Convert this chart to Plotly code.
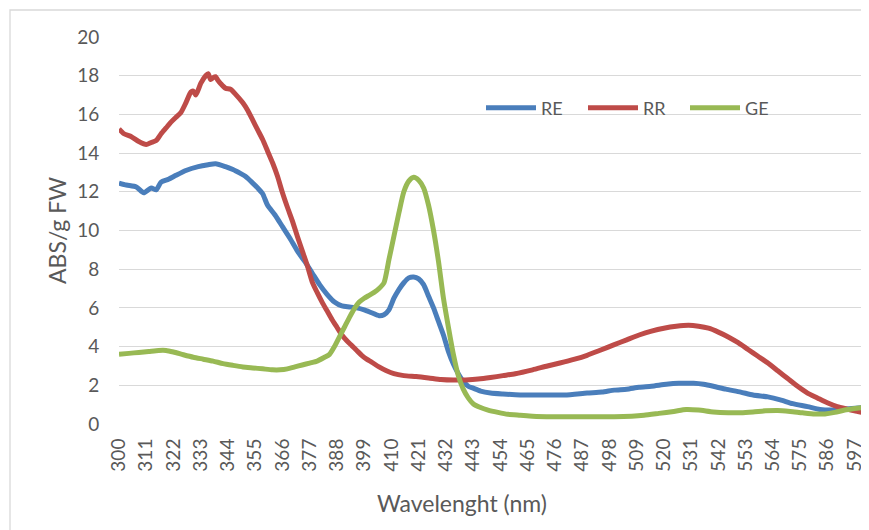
import plotly.graph_objects as go

# ---- data ----
re_wl = [300, 303, 307, 310, 313, 315, 317, 320, 323, 327, 332, 336, 339, 343, 346, 349, 351, 354, 356, 358,
         360, 363, 366, 369, 372, 375, 378, 381, 384, 387, 390, 393, 396, 399, 402, 405, 407, 409, 411, 413,
         415, 417, 419, 421, 423, 425, 427, 429, 431, 433, 435, 437, 439, 441, 443, 446, 450, 455, 462, 470,
         480, 489, 495, 500, 505, 510, 515, 521, 526, 532, 536, 540, 545, 551, 556, 562, 567, 572, 578, 583,
         588, 592, 596, 600]
re_val = [12.45, 12.35, 12.25, 11.95, 12.2, 12.1, 12.5, 12.65, 12.85, 13.1, 13.3, 13.4, 13.45, 13.3, 13.15, 12.95, 12.8, 12.45, 12.2, 11.9,
          11.3, 10.8, 10.2, 9.6, 8.95, 8.4, 7.8, 7.2, 6.7, 6.3, 6.1, 6.05, 6.0, 5.9, 5.75, 5.6, 5.65, 5.9, 6.5, 6.95,
          7.3, 7.55, 7.6, 7.5, 7.2, 6.6, 6.0, 5.3, 4.6, 3.75, 3.1, 2.6, 2.2, 1.95, 1.85, 1.7, 1.6, 1.55, 1.5, 1.5,
          1.5, 1.6, 1.65, 1.75, 1.8, 1.9, 1.95, 2.05, 2.1, 2.1, 2.05, 1.95, 1.8, 1.65, 1.5, 1.4, 1.25, 1.05, 0.9, 0.75,
          0.72, 0.75, 0.8, 0.85]

rr_wl = [300, 302, 305, 308, 311, 313, 315, 317, 319, 321, 323, 325, 327, 329, 330, 331, 333, 335, 336, 337,
         338, 339, 340, 341, 343, 345, 347, 350, 352, 354, 356, 358, 360, 362, 364, 366, 368, 370, 372, 374,
         376, 378, 380, 382, 384, 386, 388, 390, 392, 394, 396, 398, 400, 402, 405, 408, 411, 415, 420, 425,
         430, 435, 440, 445, 450, 455, 460, 467, 473, 478, 484, 489, 494, 500, 505, 510, 515, 520, 525, 530,
         534, 538, 542, 546, 550, 554, 558, 562, 566, 570, 574, 578, 582, 586, 590, 594, 597, 600]
rr_val = [15.25, 15.0, 14.85, 14.6, 14.45, 14.55, 14.65, 15.0, 15.3, 15.6, 15.85, 16.1, 16.6, 17.15, 17.2, 17.0, 17.6, 18.0, 18.1, 17.8,
          17.9, 17.95, 17.75, 17.6, 17.35, 17.3, 17.05, 16.6, 16.2, 15.7, 15.2, 14.7, 14.1, 13.5, 12.8, 11.95, 11.2, 10.5, 9.7, 8.95,
          8.2, 7.35, 6.8, 6.3, 5.85, 5.4, 5.0, 4.6, 4.3, 4.05, 3.8, 3.55, 3.35, 3.2, 2.95, 2.75, 2.6, 2.5, 2.45, 2.38,
          2.3, 2.27, 2.28, 2.32, 2.4, 2.5, 2.6, 2.8, 3.0, 3.15, 3.35, 3.55, 3.8, 4.1, 4.35, 4.6, 4.8, 4.95, 5.05, 5.1,
          5.05, 4.95, 4.75, 4.5, 4.2, 3.85, 3.5, 3.15, 2.75, 2.35, 1.95, 1.6, 1.35, 1.1, 0.9, 0.77, 0.68, 0.6]

ge_wl = [300, 304, 308, 312, 316, 319, 322, 326, 330, 334, 338, 342, 346, 350, 354, 358, 362, 365, 368, 371,
         374, 377, 380, 383, 385, 387, 389, 391, 393, 395, 397, 399, 401, 403, 405, 407, 409, 411, 413, 415,
         417, 419, 421, 423, 425, 427, 429, 431, 433, 435, 437, 439, 441, 443, 446, 449, 453, 457, 462, 467,
         475, 489, 500, 507, 512, 518, 524, 529, 534, 540, 546, 551, 556, 561, 566, 571, 576, 581, 585, 589,
         593, 597, 600]
ge_val = [3.6, 3.65, 3.7, 3.75, 3.8, 3.8, 3.72, 3.58, 3.45, 3.35, 3.25, 3.12, 3.03, 2.95, 2.9, 2.85, 2.8, 2.8, 2.85, 2.95,
          3.05, 3.15, 3.25, 3.45, 3.6, 4.0, 4.5, 5.0, 5.5, 5.95, 6.3, 6.5, 6.65, 6.8, 7.0, 7.3, 8.5, 9.7, 10.9, 12.0,
          12.55, 12.75, 12.6, 12.2, 11.3, 10.0, 8.4, 6.5, 5.0, 3.6, 2.5, 1.8, 1.35, 1.05, 0.85, 0.72, 0.6, 0.5, 0.45, 0.4,
          0.37, 0.37, 0.37, 0.4, 0.45, 0.55, 0.65, 0.75, 0.72, 0.62, 0.58, 0.58, 0.62, 0.68, 0.7, 0.65, 0.58, 0.52, 0.52, 0.6,
          0.72, 0.8, 0.85]

x_ticks = [300, 311, 322, 333, 344, 355, 366, 377, 388, 399, 410, 421, 432, 443, 454, 465, 476, 487, 498, 509,
           520, 531, 542, 553, 564, 575, 586, 597]
y_ticks = [0, 2, 4, 6, 8, 10, 12, 14, 16, 18, 20]

series = [("RE", re_wl, re_val, "#4A7EBB"),
          ("RR", rr_wl, rr_val, "#BE4B48"),
          ("GE", ge_wl, ge_val, "#98B954")]

FONT = "Lato, 'Liberation Sans', sans-serif"
GREY = "#595959"

fig = go.Figure()
for name, xs, ys, col in series:
    fig.add_trace(go.Scatter(x=xs, y=ys, name=name, mode="lines",
                             line=dict(color=col, width=5, shape="spline", smoothing=0.6)))

# page has an 8px body margin: work in page pixels, convert to figure pixels
OFF = 8
W, H = 869 - OFF, 530 - OFF
PL, PR, PT, PB = 119, 862, 37, 424          # plot area in page pixels
L, R, T, B = PL - OFF, W - (PR - OFF), PT - OFF, H - (PB - OFF)
pw, ph = W - L - R, H - T - B


def px(xp):
    return (xp - PL) / pw


def py(yp):
    return (PB - yp) / ph


fig.update_layout(
    width=W, height=H,
    margin=dict(l=L, r=R, t=T, b=B, autoexpand=False),
    paper_bgcolor="white", plot_bgcolor="white",
    font=dict(family=FONT, color=GREY, size=19),
    showlegend=True,
    legend=dict(orientation="h", x=px(481), y=py(108), xanchor="left", yanchor="middle",
                bgcolor="rgba(0,0,0,0)", font=dict(size=18, color=GREY),
                entrywidth=37, entrywidthmode="pixels", itemwidth=50, tracegroupgap=0),
    xaxis=dict(range=[300, 600], tickmode="array", tickvals=x_ticks, ticktext=[str(v) for v in x_ticks],
               tickangle=-90, showgrid=False, zeroline=False, showline=False,
               ticks="outside", ticklen=6, tickcolor="rgba(0,0,0,0)",
               tickfont=dict(size=19, color=GREY)),
    yaxis=dict(range=[0, 20], tickmode="array", tickvals=y_ticks, showgrid=True, gridcolor="#D9D9D9",
               gridwidth=1.3, zeroline=False, showline=False,
               ticks="outside", ticklen=15, tickcolor="rgba(0,0,0,0)",
               tickfont=dict(size=19, color=GREY)),
    annotations=[
        dict(text="Wavelenght (nm)", xref="paper", yref="paper", x=px(462), y=py(503),
             xanchor="center", yanchor="middle", showarrow=False, font=dict(size=23, color=GREY)),
        dict(text="ABS/g FW", xref="paper", yref="paper", x=px(57), y=py(231), textangle=-90,
             xanchor="center", yanchor="middle", showarrow=False, font=dict(size=23, color=GREY)),
    ],
    shapes=[dict(type="rect", xref="paper", yref="paper", x0=px(10), x1=px(900),
                 y0=py(560), y1=py(10), line=dict(color="#D9D9D9", width=1.3),
                 fillcolor="rgba(0,0,0,0)", layer="below")],
)

fig.write_html("out.html")
